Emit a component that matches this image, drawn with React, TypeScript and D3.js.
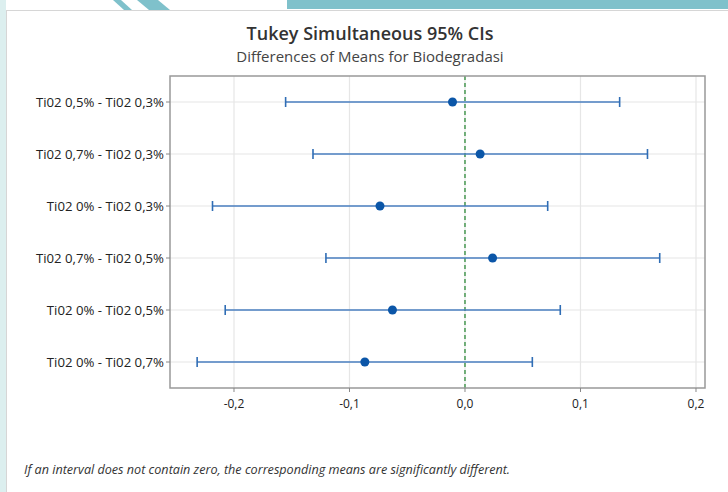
import React from "react";
import * as d3 from "d3";

const categories = [
  "Ti02 0,5% - Ti02 0,3%",
  "Ti02 0,7% - Ti02 0,3%",
  "Ti02 0% - Ti02 0,3%",
  "Ti02 0,7% - Ti02 0,5%",
  "Ti02 0% - Ti02 0,5%",
  "Ti02 0% - Ti02 0,7%",
];
const means = [-0.0108, 0.0131, -0.0736, 0.0239, -0.0628, -0.0867];
const lowers = [-0.1553, -0.1316, -0.2186, -0.1204, -0.2076, -0.2319];
const uppers = [0.1339, 0.1580, 0.0716, 0.1686, 0.0825, 0.0583];
const xTicks = [-0.2, -0.1, 0.0, 0.1, 0.2];
const xTickLabels = ["-0,2", "-0,1", "0,0", "0,1", "0,2"];

const W = 728;
const H = 492;
const plot = { left: 170, right: 705, top: 76, bottom: 388 };
const FONT = "'Open Sans', 'Noto Sans', sans-serif";

export default function App() {
  const x = d3
    .scaleLinear()
    .domain([-0.2554, 0.2078])
    .range([plot.left, plot.right]);
  const y = d3
    .scaleBand<string>()
    .domain(categories)
    .range([plot.top, plot.bottom]);
  const yc = (c: string) => (y(c) as number) + y.bandwidth() / 2;

  return (
    <svg
      width={W}
      height={H}
      style={{ position: "absolute", left: 0, top: 0, background: "#fff" }}
    >
      <rect x={0} y={0} width={W} height={H} fill="#ffffff" />
      <rect x={0} y={0} width={6} height={H} fill="#dcefef" />
      <polygon points="113,0 121,0 132,10 124,10" fill="#7fc1cb" />
      <polygon points="137,0 158,0 170,10 149,10" fill="#7fc1cb" />
      <rect x={287} y={0} width={W - 287} height={9} fill="#7fc1cb" />
      <rect x={6.5} y={10.5} width={W} height={H} fill="#fff" stroke="#d6d6d6" />

      <text
        x={370}
        y={40}
        textAnchor="middle"
        fontFamily={FONT}
        fontSize={18}
        fontWeight={600}
        fill="#333"
      >
        Tukey Simultaneous 95% CIs
      </text>
      <text
        x={370}
        y={62}
        textAnchor="middle"
        fontFamily={FONT}
        fontSize={15}
        fill="#444"
      >
        Differences of Means for Biodegradasi
      </text>

      {xTicks.map((t) => (
        <line
          key={"gx" + t}
          x1={x(t)}
          x2={x(t)}
          y1={plot.top}
          y2={plot.bottom}
          stroke="#e6e6e6"
          strokeWidth={1.2}
        />
      ))}
      {categories.map((c) => (
        <line
          key={"gy" + c}
          x1={plot.left}
          x2={plot.right}
          y1={yc(c)}
          y2={yc(c)}
          stroke="#e6e6e6"
          strokeWidth={1.2}
        />
      ))}

      <line
        x1={x(0)}
        x2={x(0)}
        y1={plot.top}
        y2={plot.bottom}
        stroke="#2e8b3a"
        strokeWidth={1.3}
        strokeDasharray="4,3"
      />

      <rect
        x={plot.left}
        y={plot.top}
        width={plot.right - plot.left}
        height={plot.bottom - plot.top}
        fill="none"
        stroke="#999"
        strokeWidth={1.5}
      />

      {categories.map((c) => (
        <g key={"yl" + c}>
          <line
            x1={plot.left - 4}
            x2={plot.left}
            y1={yc(c)}
            y2={yc(c)}
            stroke="#888"
          />
          <text
            x={plot.left - 6}
            y={yc(c)}
            dy="0.35em"
            textAnchor="end"
            fontFamily={FONT}
            fontSize={13.2}
            fill="#222"
          >
            {c}
          </text>
        </g>
      ))}

      {xTicks.map((t, i) => (
        <g key={"xl" + t}>
          <line
            x1={x(t)}
            x2={x(t)}
            y1={plot.bottom}
            y2={plot.bottom + 4}
            stroke="#888"
          />
          <text
            x={x(t)}
            y={plot.bottom + 20}
            textAnchor="middle"
            fontFamily={FONT}
            fontSize={12}
            fill="#222"
          >
            {xTickLabels[i]}
          </text>
        </g>
      ))}

      {categories.map((c, i) => {
        const cy = yc(c);
        return (
          <g key={"iv" + c}>
            <line
              x1={x(lowers[i])}
              x2={x(uppers[i])}
              y1={cy}
              y2={cy}
              stroke="#4a7fc1"
              strokeWidth={1.6}
            />
            <line
              x1={x(lowers[i])}
              x2={x(lowers[i])}
              y1={cy - 5}
              y2={cy + 5}
              stroke="#2f6db5"
              strokeWidth={1.6}
            />
            <line
              x1={x(uppers[i])}
              x2={x(uppers[i])}
              y1={cy - 5}
              y2={cy + 5}
              stroke="#2f6db5"
              strokeWidth={1.6}
            />
            <circle cx={x(means[i])} cy={cy} r={4.5} fill="#0b56a8" />
          </g>
        );
      })}

      <text
        x={24}
        y={474}
        fontFamily={FONT}
        fontSize={12.6}
        fontStyle="italic"
        fill="#333"
      >
        If an interval does not contain zero, the corresponding means are significantly different.
      </text>
    </svg>
  );
}
